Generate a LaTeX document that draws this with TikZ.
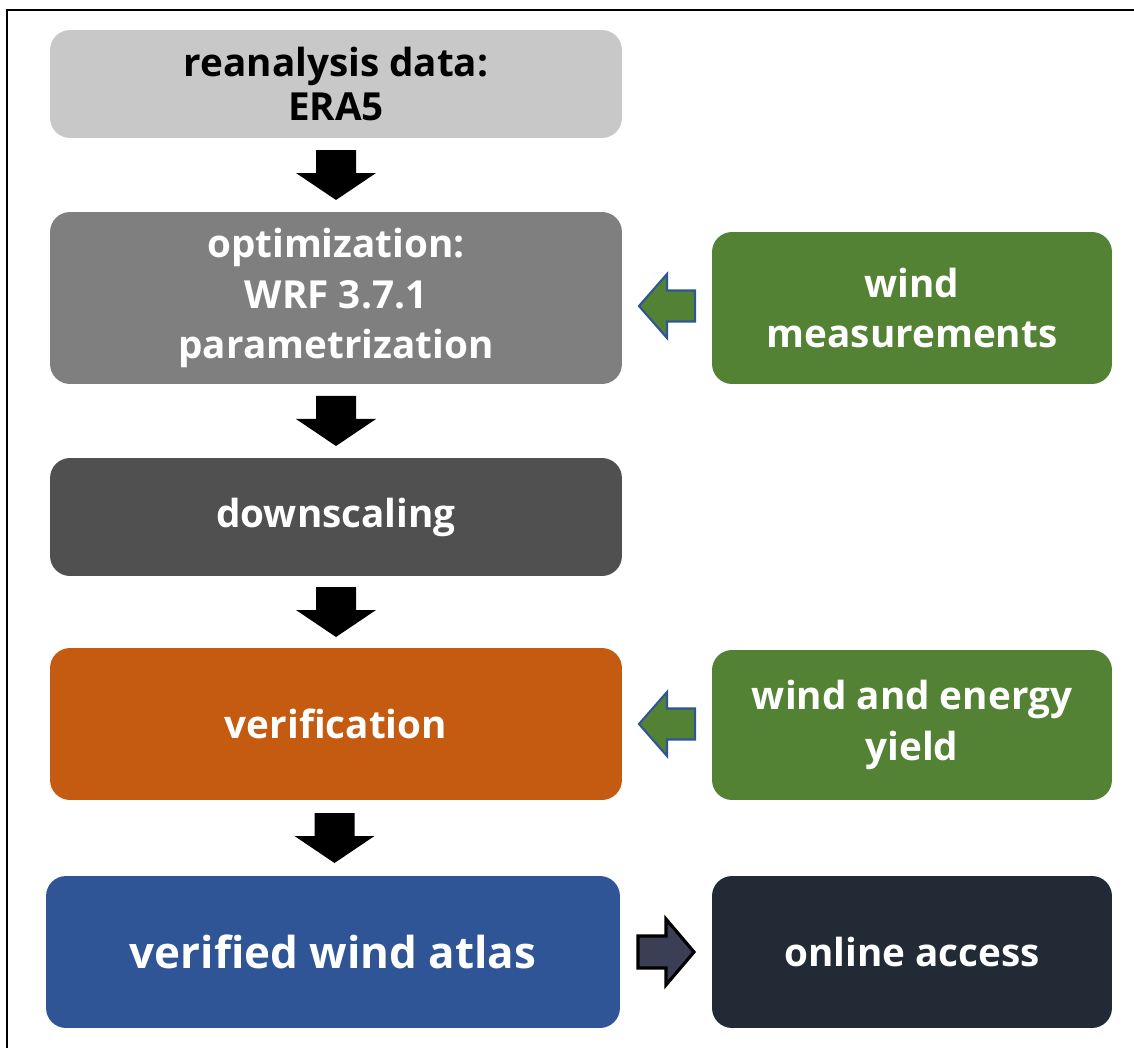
\documentclass[tikz,border=0pt]{standalone}
\usepackage{fontspec}
\setmainfont{Open Sans}
\usepackage{tikz}
\usetikzlibrary{positioning,calc}

\definecolor{boxLight}{HTML}{C8C8C8}
\definecolor{boxMid}{HTML}{7F7F7F}
\definecolor{boxDark}{HTML}{505050}
\definecolor{boxOrange}{HTML}{C55A11}
\definecolor{boxBlue}{HTML}{2F5597}
\definecolor{boxGreen}{HTML}{548235}
\definecolor{boxNavy}{HTML}{222A35}
\definecolor{arrSlate}{HTML}{3B3F55}
\definecolor{arrBlue}{HTML}{2F5597}

\tikzset{
  stage/.style={rounded corners=0.4cm,align=center,text=white,
    font=\bfseries\fontsize{22}{29}\selectfont,inner sep=0pt},
  mainbox/.style={stage,minimum width=11.44cm},
  sidebox/.style={stage,fill=boxGreen,minimum width=8cm,minimum height=3.04cm},
  downblock/.pic={
    \fill[black] (-20,-25) -- (20,-25) -- (20,-2) -- (40,-2) -- (0,25)
      -- (-40,-2) -- (-20,-2) -- cycle;},
  leftblock/.pic={
    \draw[fill=boxGreen,draw=arrBlue,line width=1.2pt,line join=miter]
      (28,-15.5) -- (28,15.5) -- (0,15.5) -- (0,32) -- (-28,0)
      -- (0,-32) -- (0,-15.5) -- cycle;},
  rightblock/.pic={
    \draw[fill=arrSlate,draw=black,line width=1.8pt,line join=miter]
      (-28,-16) -- (-28,16) -- (0,16) -- (0,33) -- (28,0)
      -- (0,-33) -- (0,-16) -- cycle;}
}

\begin{document}
\begin{tikzpicture}[x=0.02cm,y=-0.02cm]
  \useasboundingbox (0,0) rectangle (1134,1048);
  % frame (only top and left edges are visible)
  \draw[line width=1.6pt] (7,1048) -- (7,10) -- (1134,10);

  % main column
  \node[mainbox,fill=boxLight,text=black,minimum height=2.16cm,
    font=\bfseries\fontsize{22}{25}\selectfont] (rean) at (336,84)
    {reanalysis data:\\ERA5};
  \node[mainbox,fill=boxMid,minimum height=3.44cm] (opt) at (336,298)
    {optimization:\\WRF 3.7.1\\parametrization};
  \node[mainbox,fill=boxDark,minimum height=2.36cm] (down) at (336,517)
    {downscaling};
  \node[mainbox,fill=boxOrange,minimum height=3.04cm] (verif) at (336,724)
    {verification};
  \node[mainbox,fill=boxBlue,minimum height=3.04cm,minimum width=11.48cm,
    font=\bfseries\fontsize{25}{28}\selectfont] (atlas) at (333,952)
    {verified wind atlas};

  % side column
  \node[sidebox] (meas) at (912,308) {wind\\measurements};
  \node[sidebox,minimum height=3cm] (yield) at (912,725) {wind and energy\\yield};
  \node[stage,fill=boxNavy,minimum width=8cm,minimum height=3.04cm] (online)
    at (912,952) {online access};

  % block arrows
  \pic at ($(rean.south)!0.5!(opt.north)$) {downblock};
  \pic at ($(opt.south)!0.5!(down.north)$) {downblock};
  \pic at ($(down.south)!0.5!(verif.north)$) {downblock};
  \pic at ($(verif.south)!0.5!(atlas.north)$) {downblock};
  \pic at ($(opt.east |- 0,306)!0.5!(meas.west |- 0,306)$) {leftblock};
  \pic at ($(verif.east |- 0,724)!0.5!(yield.west |- 0,724)$) {leftblock};
  \pic at ($(atlas.east)!0.5!(online.west)$) {rightblock};
\end{tikzpicture}
\end{document}
